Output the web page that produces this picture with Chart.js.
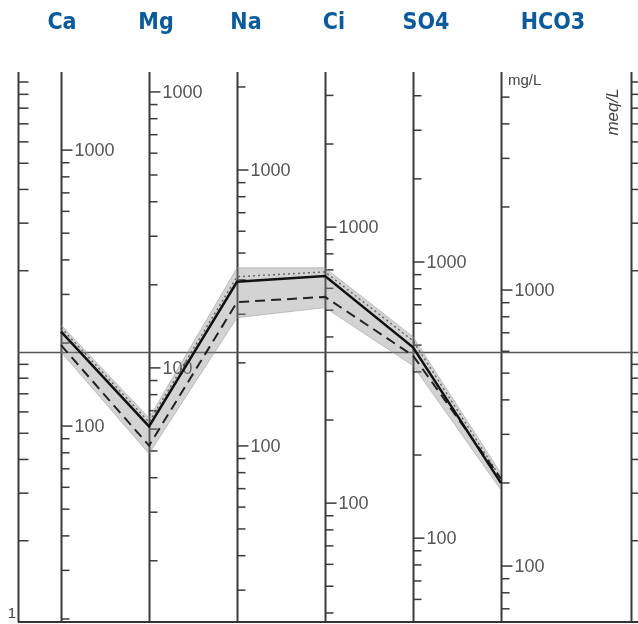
<!DOCTYPE html>
<html>
<head>
<meta charset="utf-8">
<script src="https://cdn.jsdelivr.net/npm/chart.js@4.4.0/dist/chart.umd.min.js"></script>
<style>
  html, body { margin: 0; padding: 0; background: #fff; }
  #wrap { position: relative; width: 638px; height: 624px; }
  .ion { position: absolute; top: 8px; transform: translateX(-50%); color: #0b5a9c;
         font: bold 23px "DejaVu Sans Condensed", "Liberation Sans Narrow", Roboto, sans-serif; font-stretch: condensed; }
</style>
</head>
<body>
<div id="wrap">
  <canvas id="chart"></canvas>
  <div class="ion" style="left:62px">Ca</div>
  <div class="ion" style="left:156px">Mg</div>
  <div class="ion" style="left:246px">Na</div>
  <div class="ion" style="left:334px">Ci</div>
  <div class="ion" style="left:426px">SO4</div>
  <div class="ion" style="left:553px">HCO3</div>
</div>
<script>
// schoeller diagram, values in meq/L
const ions = ['Ca', 'Mg', 'Na', 'Ci', 'SO4', 'HCO3'];
const solidLine = [11.9, 5.3, 18.2, 19.1, 10.4, 3.27];
const dashedLine = [10.6, 4.5, 15.3, 16.0, 9.7, 3.39];
const dottedLine = [12.3, 5.5, 19.0, 19.8, 11.0, 3.40];
const bandHigh = [12.6, 5.7, 20.5, 20.5, 11.4, 3.55];
const bandLow = [10.0, 4.2, 13.4, 14.6, 8.9, 3.08];

// ticks (mg/L per column, meq/L on the outer axes)
const meqTicks = [2, 3, 4, 5, 6, 7, 8, 9, 20, 30, 40, 50, 60, 70, 80, 90, 100];
const caTicks = [20, 30, 40, 50, 60, 70, 80, 90, 100, 200, 300, 400, 500, 600, 700, 800, 900, 1000];
const mgTicks = [20, 30, 40, 50, 60, 70, 80, 90, 100, 200, 300, 400, 500, 600, 700, 800, 900, 1000];
const naTicks = [30, 40, 50, 60, 70, 80, 90, 100, 200, 300, 400, 500, 600, 700, 800, 900, 1000, 2000];
const clTicks = [40, 50, 60, 70, 80, 90, 100, 200, 300, 400, 500, 600, 700, 800, 900, 1000, 2000, 3000];
const so4Ticks = [60, 70, 80, 90, 100, 200, 300, 400, 500, 600, 700, 800, 900, 1000, 2000, 3000, 4000];
const hco3Ticks = [70, 80, 90, 100, 200, 300, 400, 500, 600, 700, 800, 900, 1000, 2000, 3000, 4000, 5000];
const labelTicks = [100, 1000];

const colIds = ['ca', 'mg', 'na', 'cl', 'so4', 'hco3'];
const colTicks = [caTicks, mgTicks, naTicks, clTicks, so4Ticks, hco3Ticks];
const colRange = [[19.5, 1919], [12.0, 1181], [23.0, 2266], [37.1, 3647], [49.7, 4876], [62.7, 6166]];

const pts = arr => arr.map((v, i) => ({ x: i + 1, y: v }));

function line(ctx, x1, y1, x2, y2) {
  ctx.beginPath(); ctx.moveTo(x1, y1); ctx.lineTo(x2, y2); ctx.stroke();
}

const axesPlugin = {
  id: 'schoellerAxes',
  beforeDatasetsDraw(chart) {
    const { ctx, chartArea: a, scales } = chart;
    const xs = scales.x, ys = scales.y;
    const W = chart.width;
    ctx.save();
    ctx.strokeStyle = '#3a3a3a';
    ctx.fillStyle = '#555';
    ctx.font = '18px "Liberation Sans", Arial, sans-serif';
    ctx.textBaseline = 'middle';

    colIds.forEach((id, i) => {
      const sc = scales[id];
      const x = Math.round(xs.getPixelForValue(i + 1)) + 0.5;
      ctx.lineWidth = 2;
      line(ctx, x, a.top, x, a.bottom);
      ctx.lineWidth = 1.5;
      colTicks[i].forEach(v => {
        const y = sc.getPixelForValue(v);
        const lab = labelTicks.includes(v);
        line(ctx, x, y, x + (lab ? 11 : 8), y);
        if (lab) ctx.fillText(String(v), x + 13, y + 1);
      });
    });

    // outer meq/L axes
    [a.left, a.right].forEach((x0, k) => {
      const x = Math.round(x0) + 0.5;
      ctx.lineWidth = 2;
      line(ctx, x, a.top, x, a.bottom);
      ctx.lineWidth = 1.5;
      meqTicks.forEach(v => {
        const y = ys.getPixelForValue(v);
        line(ctx, x, y, x + (k === 0 ? 10 : 7), y);
      });
    });

    // 10 meq/L line and bottom border
    ctx.strokeStyle = '#555';
    ctx.lineWidth = 1.5;
    const y10 = Math.round(ys.getPixelForValue(10)) + 0.5;
    line(ctx, a.left, y10, W, y10);
    ctx.strokeStyle = '#333';
    ctx.lineWidth = 2;
    line(ctx, a.left, a.bottom, W, a.bottom);

    ctx.fillStyle = '#444';
    ctx.font = '15px "Liberation Sans", Arial, sans-serif';
    ctx.textAlign = 'center';
    ctx.fillText('1', a.left - 6, a.bottom - 8);
    ctx.textAlign = 'left';
    const xh = xs.getPixelForValue(6);
    ctx.fillText('mg/L', xh + 7, a.top + 9);
    ctx.save();
    ctx.translate(a.right - 18, a.top + 40);
    ctx.rotate(-Math.PI / 2);
    ctx.textAlign = 'center';
    ctx.font = 'italic 17px "Liberation Sans", Arial, sans-serif';
    ctx.fillText('meq/L', 0, 0);
    ctx.restore();
    ctx.restore();
  }
};

const colScales = {};
colIds.forEach((id, i) => {
  colScales[id] = { type: 'logarithmic', axis: 'y', position: 'left', display: false, min: colRange[i][0], max: colRange[i][1] };
});

new Chart(document.getElementById('chart'), {
  type: 'line',
  data: {
    datasets: [
      { label: 'solid', data: pts(solidLine), borderColor: '#111', borderWidth: 2.5, pointRadius: 0, fill: false },
      { label: 'dashed', data: pts(dashedLine), borderColor: '#222', borderWidth: 2, borderDash: [10, 6], pointRadius: 0, fill: false },
      { label: 'dotted', data: pts(dottedLine), borderColor: 'rgba(60,60,60,0.7)', borderWidth: 1.5, borderDash: [2, 3], pointRadius: 0, fill: false },
      { label: 'high', data: pts(bandHigh), borderColor: 'rgba(150,150,150,0.5)', borderWidth: 1, pointRadius: 0, fill: '+1', backgroundColor: 'rgba(140,140,140,0.38)' },
      { label: 'low', data: pts(bandLow), borderColor: 'rgba(150,150,150,0.5)', borderWidth: 1, pointRadius: 0, fill: false }
    ]
  },
  options: {
    responsive: true,
    maintainAspectRatio: false,
    animation: false,
    layout: { padding: { left: 18, right: 7, top: 72, bottom: 2 } },
    elements: { line: { tension: 0 } },
    plugins: { legend: { display: false }, tooltip: { enabled: false } },
    scales: Object.assign({
      x: { type: 'linear', display: false, min: 0.511, max: 7.477 },
      y: { type: 'logarithmic', display: false, min: 1, max: 108.9 }
    }, colScales)
  },
  plugins: [axesPlugin]
});
</script>
</body>
</html>
